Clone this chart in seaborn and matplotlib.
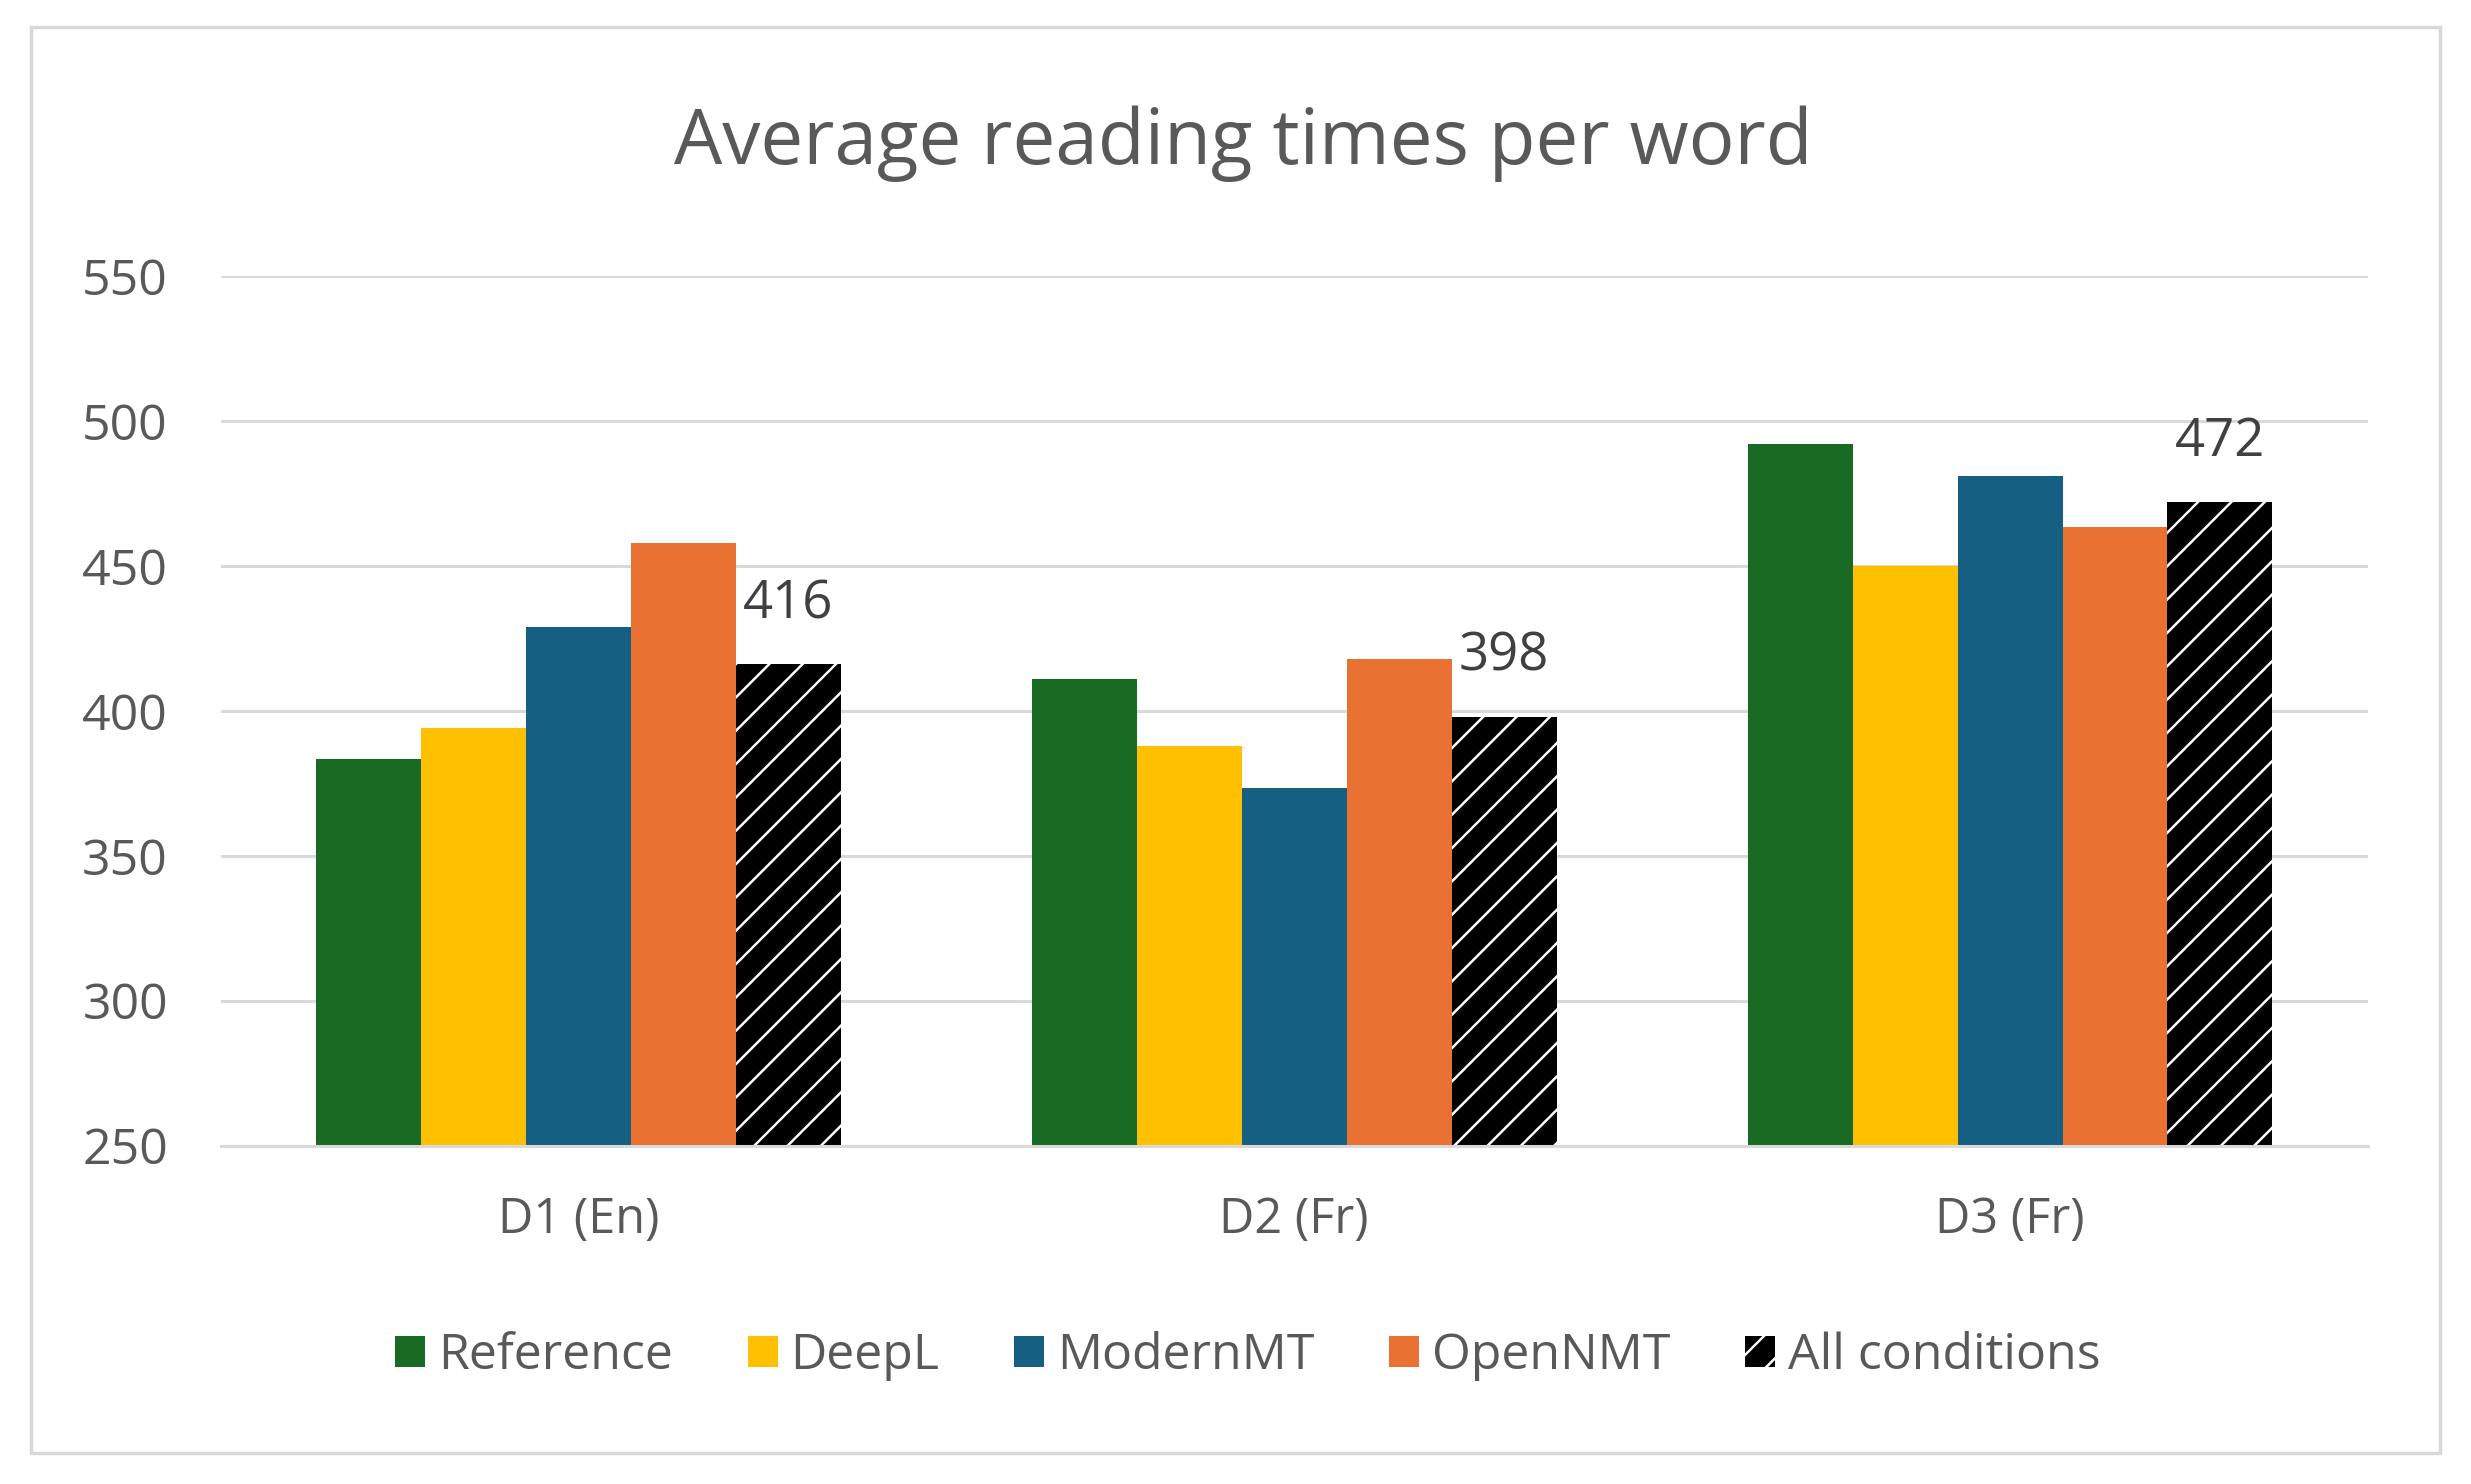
import matplotlib
matplotlib.use("Agg")
import matplotlib.pyplot as plt
from matplotlib.patches import Patch, Rectangle
import seaborn as sns
import pandas as pd

# ---- data ----
categories = ["D1 (En)", "D2 (Fr)", "D3 (Fr)"]
conditions = ["Reference", "DeepL", "ModernMT", "OpenNMT", "All conditions"]
reference_vals = [383.5, 411, 492]
deepl_vals = [394, 388, 450]
modernmt_vals = [429, 373.5, 481]
opennmt_vals = [458, 418, 463.5]
all_vals = [416, 398, 472]
colors = ["#196B24", "#FFC000", "#156082", "#E97132", "#000000"]

series = [reference_vals, deepl_vals, modernmt_vals, opennmt_vals, all_vals]
rows = []
for cond, vals in zip(conditions, series):
    for cat, v in zip(categories, vals):
        rows.append({"Category": cat, "Condition": cond, "Value": v})
df = pd.DataFrame(rows)

sns.set_theme(style="white")
plt.rcParams["font.family"] = ["Open Sans", "DejaVu Sans"]
plt.rcParams["hatch.linewidth"] = 1.8

text_gray = "#595959"
grid_gray = "#D9D9D9"

fig = plt.figure(figsize=(24.71, 14.84), dpi=100)
ax = fig.add_axes([0.0893, 0.228, 0.869, 0.586])

sns.barplot(data=df, x="Category", y="Value", hue="Condition",
            hue_order=conditions, order=categories, palette=colors,
            width=0.733, saturation=1, ax=ax, legend=False,
            linewidth=0, edgecolor="none")

# hatch the "All conditions" bars
last = ax.containers[-1]
for bar in last:
    bar.set_facecolor("black")
    bar.set_edgecolor("white")
    bar.set_hatch("/")
    bar.set_linewidth(0)

ax.bar_label(last, labels=[f"{v:g}" for v in all_vals], padding=24,
             fontsize=38, color="#404040")

ax.set_ylim(250, 550)
ax.set_xlim(-0.5, 2.5)
ax.set_yticks([250, 300, 350, 400, 450, 500, 550])
ax.yaxis.grid(True, color=grid_gray, linewidth=2.2)
ax.set_axisbelow(True)
for s in ["top", "right", "left"]:
    ax.spines[s].set_visible(False)
ax.spines["bottom"].set_color(grid_gray)
ax.spines["bottom"].set_linewidth(2.2)
ax.tick_params(axis="y", length=0, pad=38, labelsize=36, labelcolor=text_gray)
ax.tick_params(axis="x", length=0, pad=36, labelsize=35, labelcolor=text_gray)
ax.set_xlabel("")
ax.set_ylabel("")

fig.text(0.503, 0.903, "Average reading times per word", ha="center",
         va="center", fontsize=55, color=text_gray)

handles = []
for cond, c in zip(conditions, colors):
    if cond == "All conditions":
        handles.append(Patch(facecolor="black", edgecolor="white", hatch="/",
                             linewidth=0, label=cond))
    else:
        handles.append(Patch(facecolor=c, edgecolor="none", label=cond))
leg = fig.legend(handles=handles, loc="center", bbox_to_anchor=(0.505, 0.086),
                 ncol=5, frameon=False, fontsize=36, handlelength=0.6,
                 handleheight=0.6, handletextpad=0.25, columnspacing=1.5)
for t in leg.get_texts():
    t.set_color(text_gray)

fig.patches.append(Rectangle((0.0125, 0.021), 0.975, 0.961,
                             transform=fig.transFigure, fill=False,
                             edgecolor="#D9D9D9", linewidth=2.5))

fig.savefig("out.png", dpi=100, facecolor="white")
